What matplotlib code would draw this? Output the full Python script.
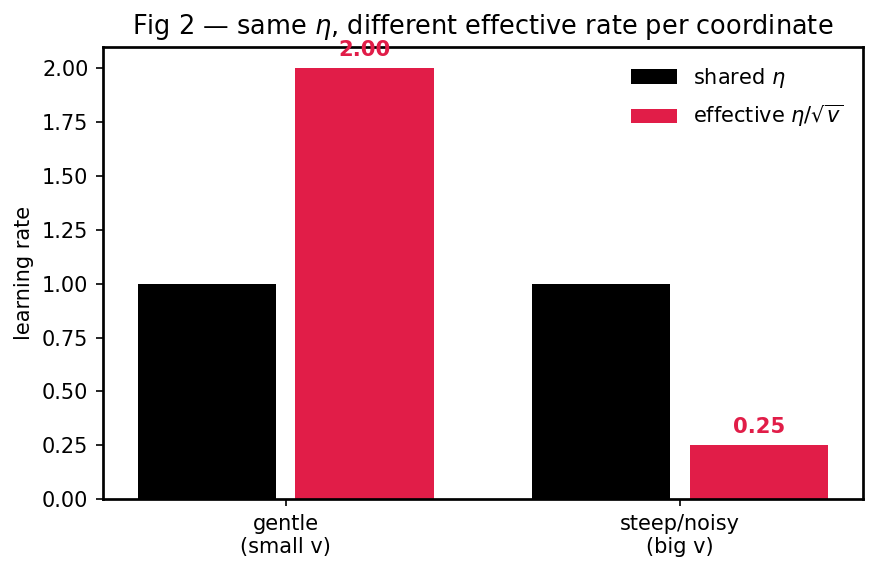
import matplotlib
matplotlib.use("Agg")
import matplotlib.pyplot as plt
import numpy as np

categories = ["gentle\n(small v)", "steep/noisy\n(big v)"]
shared_eta = [1.0, 1.0]
effective_eta = [2.0, 0.25]

RED = "#e11d48"

fig, ax = plt.subplots(figsize=(876 / 150, 571 / 150), dpi=150)
x = np.arange(len(categories))
w = 0.35

ax.bar(x - 0.2, shared_eta, width=w, color="black", label=r"shared $\eta$")
bars = ax.bar(x + 0.2, effective_eta, width=w, color=RED,
              label=r"effective $\eta/\sqrt{v}$")

for b, v in zip(bars, effective_eta):
    ax.annotate(f"{v:.2f}", (b.get_x() + b.get_width() / 2, v),
                xytext=(0, 4), textcoords="offset points",
                ha="center", va="bottom", color=RED, fontweight="bold",
                fontsize=10.2)

ax.set_xticks(x)
ax.set_xticklabels(categories)
ax.set_ylim(0, 2.1)
ax.set_ylabel("learning rate")
ax.set_title(r"Fig 2 — same $\eta$, different effective rate per coordinate",
             fontsize=12.3)
ax.legend(frameon=False, loc="upper right", labelspacing=0.65, handlelength=2.2)
for s in ax.spines.values():
    s.set_linewidth(1.3)

fig.subplots_adjust(left=0.1176, right=0.985, top=0.918, bottom=0.126)
fig.savefig("out.png", dpi=150)
